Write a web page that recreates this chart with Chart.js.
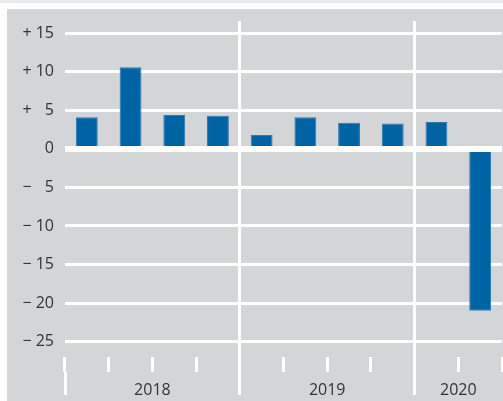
<!DOCTYPE html>
<html>
<head>
<meta charset="utf-8">
<script src="https://cdn.jsdelivr.net/npm/chart.js@4.4.1/dist/chart.umd.min.js"></script>
<style>
  html, body { margin: 0; padding: 0; background: #fff; }
  #wrap { position: relative; width: 503px; height: 401px; overflow: hidden; }
  #topStrip { position: absolute; left: 0; top: 0; width: 503px; height: 3px; background: #e9eaec; }
  #panel { position: absolute; left: 7px; top: 9px; width: 496px; height: 392px; background: #d4d5d7; }
  #chart { position: absolute; left: 0; top: 0; }
</style>
</head>
<body>
<div id="wrap">
  <div id="topStrip"></div>
  <div id="panel"></div>
  <canvas id="chart" width="503" height="401"></canvas>
</div>
<script>
  // quarters 2018 Q1 .. 2020 Q2
  const quarters = ['Q1 2018', 'Q2 2018', 'Q3 2018', 'Q4 2018',
                    'Q1 2019', 'Q2 2019', 'Q3 2019', 'Q4 2019',
                    'Q1 2020', 'Q2 2020'];
  const values = [4.1, 10.6, 4.4, 4.3, 1.8, 4.1, 3.4, 3.3, 3.5, -21.0];

  const years = ['2018', '2019', '2020'];
  const yearStart = [0, 4, 8];   // first quarter index of each year
  const yearEnd = [3, 7, 9];     // last quarter index of each year

  const yTicks = [15, 10, 5, 0, -5, -10, -15, -20, -25];

  const WHITE = '#ffffff';
  const CLEAR = 'rgba(0,0,0,0)';
  const BAR = '#0063a4';
  const TEXT = '#333333';
  const FONT = { family: '"Open Sans", "Noto Sans", sans-serif', size: 16 };

  function yLabel(v) {
    if (v === 0) return '0';
    const sign = v > 0 ? '+' : '\u2212';
    const a = Math.abs(v);
    return a < 10 ? sign + ' \u2007' + a : sign + ' ' + a;
  }

  // year separators and year label positions on the half-step axis
  const yearBounds = [-0.5].concat(yearEnd.map(i => i + 0.5));
  const yearCenters = yearStart.map((s, i) => (s + yearEnd[i]) / 2);

  // zero line sits on top of the bars
  const zeroLine = {
    id: 'zeroLine',
    afterDatasetsDraw(chart) {
      const { ctx, chartArea, scales } = chart;
      const y = scales.y.getPixelForValue(0);
      ctx.save();
      ctx.strokeStyle = WHITE;
      ctx.lineWidth = 6;
      ctx.beginPath();
      ctx.moveTo(chartArea.left, y);
      ctx.lineTo(chartArea.right, y);
      ctx.stroke();
      ctx.restore();
    },
  };

  new Chart(document.getElementById('chart').getContext('2d'), {
    type: 'bar',
    data: {
      labels: quarters,
      datasets: [{
        data: values,
        backgroundColor: BAR,
        borderColor: '#2a7ab4',
        borderWidth: 1,
        borderSkipped: false,
        categoryPercentage: 1,
        barPercentage: 0.5,
      }],
    },
    plugins: [zeroLine],
    options: {
      responsive: false,
      animation: false,
      events: [],
      layout: { padding: { top: 21, right: 1, bottom: 3, left: 0 } },
      plugins: {
        legend: { display: false },
        tooltip: { enabled: false },
      },
      scales: {
        y: {
          min: -27,
          max: 16.6,
          afterBuildTicks(scale) {
            scale.ticks = yTicks.map(v => ({ value: v }));
          },
          afterFit(scale) {
            scale.width = 65;
          },
          border: { display: false },
          grid: { color: WHITE, lineWidth: 3, drawTicks: false },
          ticks: {
            padding: 11,
            color: TEXT,
            font: FONT,
            callback: v => yLabel(v),
          },
        },
        x: {
          type: 'category',
          position: 'bottom',
          border: { display: false },
          grid: {
            offset: true,
            drawOnChartArea: false,
            drawTicks: true,
            tickLength: 15,
            tickColor: WHITE,
            lineWidth: 3,
          },
          ticks: { display: false },
          afterFit(scale) {
            scale.height = 15;
          },
        },
        x2: {
          type: 'linear',
          position: 'bottom',
          offset: false,
          min: -0.5,
          max: quarters.length - 0.5,
          afterBuildTicks(scale) {
            scale.ticks = yearBounds.concat(yearCenters)
              .sort((a, b) => a - b)
              .map(v => ({ value: v }));
          },
          afterFit(scale) {
            scale.height = 26;
          },
          border: { display: false },
          grid: {
            offset: false,
            lineWidth: 3,
            tickLength: 23,
            color(ctx) {
              const v = ctx.tick && ctx.tick.value;
              return yearBounds.slice(1, -1).includes(v) ? WHITE : CLEAR;
            },
            tickColor(ctx) {
              const v = ctx.tick && ctx.tick.value;
              return yearBounds.slice(0, -1).includes(v) ? WHITE : CLEAR;
            },
          },
          ticks: {
            padding: -14,
            autoSkip: false,
            maxRotation: 0,
            color: TEXT,
            font: FONT,
            callback(v) {
              const i = yearCenters.indexOf(v);
              return i >= 0 ? years[i] : '';
            },
          },
        },
      },
    },
  });
</script>
</body>
</html>
